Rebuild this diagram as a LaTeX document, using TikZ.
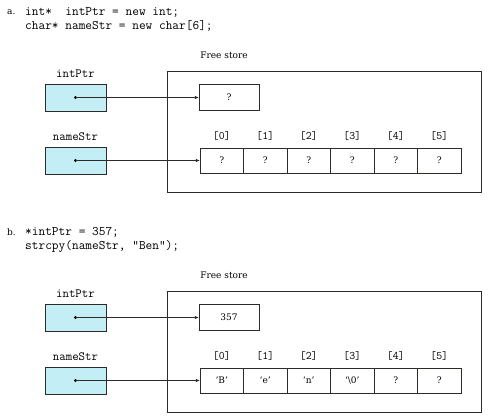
\documentclass[tikz,border=0pt]{standalone}
\usepackage{fontspec}
\setmainfont{DejaVu Serif}
\usetikzlibrary{arrows.meta,positioning}
\definecolor{ptrcyan}{HTML}{C4EEF6}
\definecolor{lineink}{HTML}{2E2A26}

\begin{document}
\begin{tikzpicture}[x=1pt, y=-1pt, every node/.style={font=\fontsize{9}{11}\selectfont},
  codetext/.style={anchor=west, inner sep=0pt, font=\fontsize{13}{15}\ttfamily},
  tag/.style={anchor=west, inner sep=0pt},
  ptrbox/.style={draw=lineink, fill=ptrcyan, minimum width=61pt, minimum height=27pt, inner sep=0pt},
  varlabel/.style={inner sep=0pt, font=\fontsize{12.5}{14}\ttfamily},
  cellbox/.style={draw=lineink, minimum width=60pt, minimum height=26pt, inner sep=0pt},
  arrcell/.style={draw=lineink, minimum width=43.5pt, minimum height=25pt, inner sep=0pt},
  idxlabel/.style={inner sep=0pt, font=\fontsize{11.5}{13}\ttfamily},
  storebox/.style={draw=lineink, line width=0.6pt},
  ptrarrow/.style={draw=lineink, line width=0.6pt, -{Latex[length=4pt,width=3.5pt]}},
  ptrdot/.style={fill=black}]

  \useasboundingbox (0,0) rectangle (488,418);

  % ---- a. allocation ----
  \node[tag] (tagA) at (7,12) {a.};
  \node[codetext] (codeA1) at (25,12) {int*\ \ intPtr = new int;};
  \node[codetext] (codeA2) at (25,26) {char* nameStr = new char[6];};

  \draw[storebox] (167,71) rectangle (481,192);
  \node (storeA) at (224,55) {Free store};

  % int pointer
  \node[ptrbox] (intPtrA) at (75.5,97.5) {};
  \node[varlabel, above=6pt of intPtrA] {intPtr};
  \node[cellbox] (intValA) at (229,97.5) {?};
  \fill[ptrdot] (intPtrA.center) circle (1.6pt);
  \draw[ptrarrow] (intPtrA.center) -- (intValA.west);

  % char array
  \node[ptrbox] (nameStrA) at (75.5,160.5) {};
  \node[varlabel, above=6pt of nameStrA] {nameStr};
  \foreach \i/\t in {0/?,1/?,2/?,3/?,4/?,5/?} {
    \node[arrcell] (cellA\i) at ({221.75+43.5*\i},160.5) {\t};
    \node[idxlabel, above=7pt of cellA\i] {[\i]};
  }
  \fill[ptrdot] (nameStrA.center) circle (1.6pt);
  \draw[ptrarrow] (nameStrA.center) -- (cellA0.west);

  % ---- b. assignment ----
  \node[tag] (tagB) at (7,232) {b.};
  \node[codetext] (codeB1) at (25,232) {*intPtr = 357;};
  \node[codetext] (codeB2) at (25,246) {strcpy(nameStr, "Ben");};

  \draw[storebox] (167,291) rectangle (481,412);
  \node (storeB) at (224,275) {Free store};

  % int pointer
  \node[ptrbox] (intPtrB) at (75.5,317.5) {};
  \node[varlabel, above=6pt of intPtrB] {intPtr};
  \node[cellbox] (intValB) at (229,317.5) {357};
  \fill[ptrdot] (intPtrB.center) circle (1.6pt);
  \draw[ptrarrow] (intPtrB.center) -- (intValB.west);

  % char array
  \node[ptrbox] (nameStrB) at (75.5,380.5) {};
  \node[varlabel, above=6pt of nameStrB] {nameStr};
  \foreach \i/\t in {0/`B',1/`e',2/`n',3/`\textbackslash0',4/?,5/?} {
    \node[arrcell] (cellB\i) at ({221.75+43.5*\i},380.5) {\t};
    \node[idxlabel, above=7pt of cellB\i] {[\i]};
  }
  \fill[ptrdot] (nameStrB.center) circle (1.6pt);
  \draw[ptrarrow] (nameStrB.center) -- (cellB0.west);

\end{tikzpicture}
\end{document}
